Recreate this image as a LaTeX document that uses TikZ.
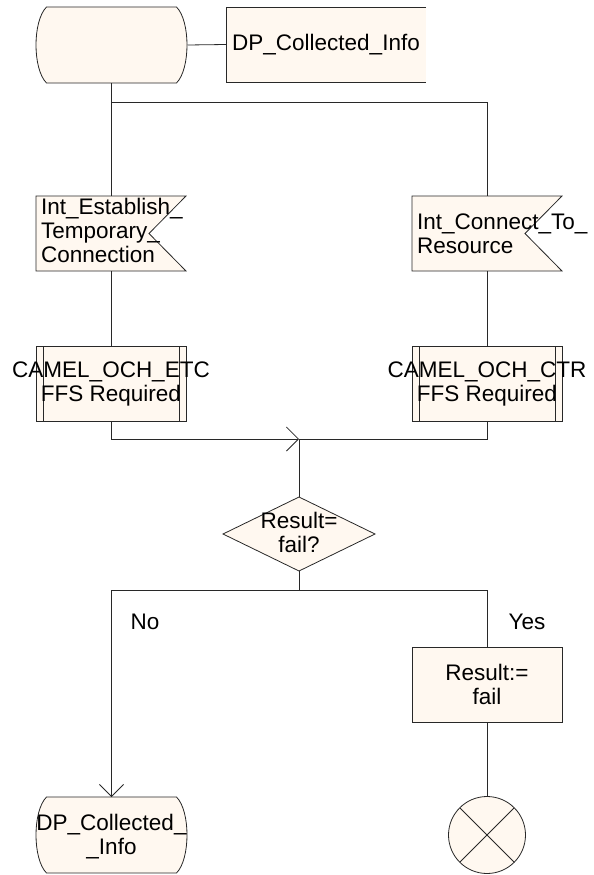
\documentclass[tikz,border=0pt]{standalone}
\usepackage{fontspec}
\setmainfont{Liberation Sans}
\usetikzlibrary{arrows.meta,calc}
\definecolor{cream}{RGB}{255,248,240}
\definecolor{ink}{RGB}{40,40,40}
\begin{document}
\begin{tikzpicture}[x=1pt,y=-1pt,
  font=\fontsize{22.5}{24}\selectfont,
  line/.style={draw=ink, line width=0.8pt},
  shapefill/.style={draw=ink, line width=0.8pt, fill=cream},
  frame/.style={minimum width=150pt, minimum height=75pt, inner sep=0pt, outer sep=0pt},
  termframe/.style={minimum width=152pt, minimum height=76pt, inner sep=0pt, outer sep=0pt},
  txt/.style={inner sep=0pt, align=center},
  ltxt/.style={inner sep=0pt, align=left, anchor=west},
  arr/.style={line, -{Straight Barb[length=12pt,width=24pt,line width=0.8pt]}}
]
\useasboundingbox (0,0) rectangle (594,875);

% ---- frames (invisible nodes giving anchors) ----
\node[termframe] (start) at (111.5,45) {};
\node[frame, minimum width=200pt] (dp) at (326,44.5) {};
\node[frame] (in1) at (111,233.5) {};
\node[frame] (in2) at (487,233.5) {};
\node[frame] (p1) at (111,383.5) {};
\node[frame] (p2) at (487,383.5) {};
\node[minimum width=152pt, minimum height=74pt, inner sep=0pt, outer sep=0pt] (dia) at (299,534) {};
\node[frame] (res) at (487,684.5) {};
\node[termframe] (stop) at (111.5,835) {};
\node[circle, minimum size=77pt, inner sep=0pt, outer sep=0pt] (term) at (487,835) {};

\coordinate (split) at (111,102);
\coordinate (merge) at (299,439);
\coordinate (branch) at (299,590);

% ---- start symbol ----
\filldraw[shapefill] ([xshift=11pt]start.north west) -- ([xshift=-11pt]start.north east)
  .. controls +(14,14) and +(14,-14) .. ([xshift=-11pt]start.south east)
  -- ([xshift=11pt]start.south west)
  .. controls +(-14,-14) and +(-14,14) .. ([xshift=11pt]start.north west) -- cycle;

% ---- text extension (open on the right) ----
\fill[cream] (dp.north west) rectangle (dp.south east);
\draw[line] (dp.north east) -- (dp.north west) -- (dp.south west) -- (dp.south east);
\node[ltxt] (dptext) at ([xshift=6pt]dp.west) {DP\_Collected\_Info};

% ---- input signals ----
\filldraw[shapefill] (in1.north west) -- (in1.north east) -- ([xshift=-37pt]in1.east)
  -- (in1.south east) -- (in1.south west) -- cycle;
\node[ltxt] (in1text) at ([xshift=5pt,yshift=3pt]in1.west) {Int\_Establish\_\\Temporary\_\\Connection};
\filldraw[shapefill] (in2.north west) -- (in2.north east) -- ([xshift=-37pt]in2.east)
  -- (in2.south east) -- (in2.south west) -- cycle;
\node[ltxt] (in2text) at ([xshift=5pt]in2.west) {Int\_Connect\_To\_\\Resource};

% ---- procedure calls ----
\filldraw[shapefill] (p1.north west) rectangle (p1.south east);
\draw[line] ([xshift=7pt]p1.north west) -- ([xshift=7pt]p1.south west);
\draw[line] ([xshift=-7pt]p1.north east) -- ([xshift=-7pt]p1.south east);
\node[txt] (p1text) at (p1) {CAMEL\_OCH\_ETC\\FFS Required};
\filldraw[shapefill] (p2.north west) rectangle (p2.south east);
\draw[line] ([xshift=7pt]p2.north west) -- ([xshift=7pt]p2.south west);
\draw[line] ([xshift=-7pt]p2.north east) -- ([xshift=-7pt]p2.south east);
\node[txt] (p2text) at (p2) {CAMEL\_OCH\_CTR\\FFS Required};

% ---- decision ----
\filldraw[shapefill] (dia.north) -- (dia.east) -- (dia.south) -- (dia.west) -- cycle;
\node[txt] (diatext) at ([yshift=2pt]dia) {Result=\\fail?};

% ---- task ----
\filldraw[shapefill] (res.north west) rectangle (res.south east);
\node[txt] (restext) at (res) {Result:=\\fail};

% ---- next state ----
\filldraw[shapefill] ([xshift=11pt]stop.north west) -- ([xshift=-11pt]stop.north east)
  .. controls +(14,14) and +(14,-14) .. ([xshift=-11pt]stop.south east)
  -- ([xshift=11pt]stop.south west)
  .. controls +(-14,-14) and +(-14,14) .. ([xshift=11pt]stop.north west) -- cycle;
\node[txt] (stoptext) at ([yshift=-2pt]stop) {DP\_Collected\_\\\_Info};

% ---- stop ----
\filldraw[shapefill] (term) circle[radius=38.5pt];
\draw[line] (term.north west) -- (term.south east);
\draw[line] (term.north east) -- (term.south west);

% ---- connectors ----
\draw[line] (start.east) -- (dp.west);
\draw[line] (start.south -| split) -- (split);
\draw[line] (split) -- (in1.north);
\draw[line] (split) -| (in2.north);
\draw[line] (in1.south) -- (p1.north);
\draw[line] (in2.south) -- (p2.north);
\draw[arr] (p1.south) |- (merge);
\draw[line] (p2.south) |- (merge);
\draw[line] (merge) -- (dia.north);
\draw[line] (dia.south) -- (branch);
\draw[arr] (branch) -| (stop.north);
\draw[line] (branch) -| (res.north);
\draw[line] (res.south) -- (term.north);

% ---- branch labels ----
\node[txt] (no) at (145,622) {No};
\node[txt] (yes) at (527,622) {Yes};
\end{tikzpicture}
\end{document}
